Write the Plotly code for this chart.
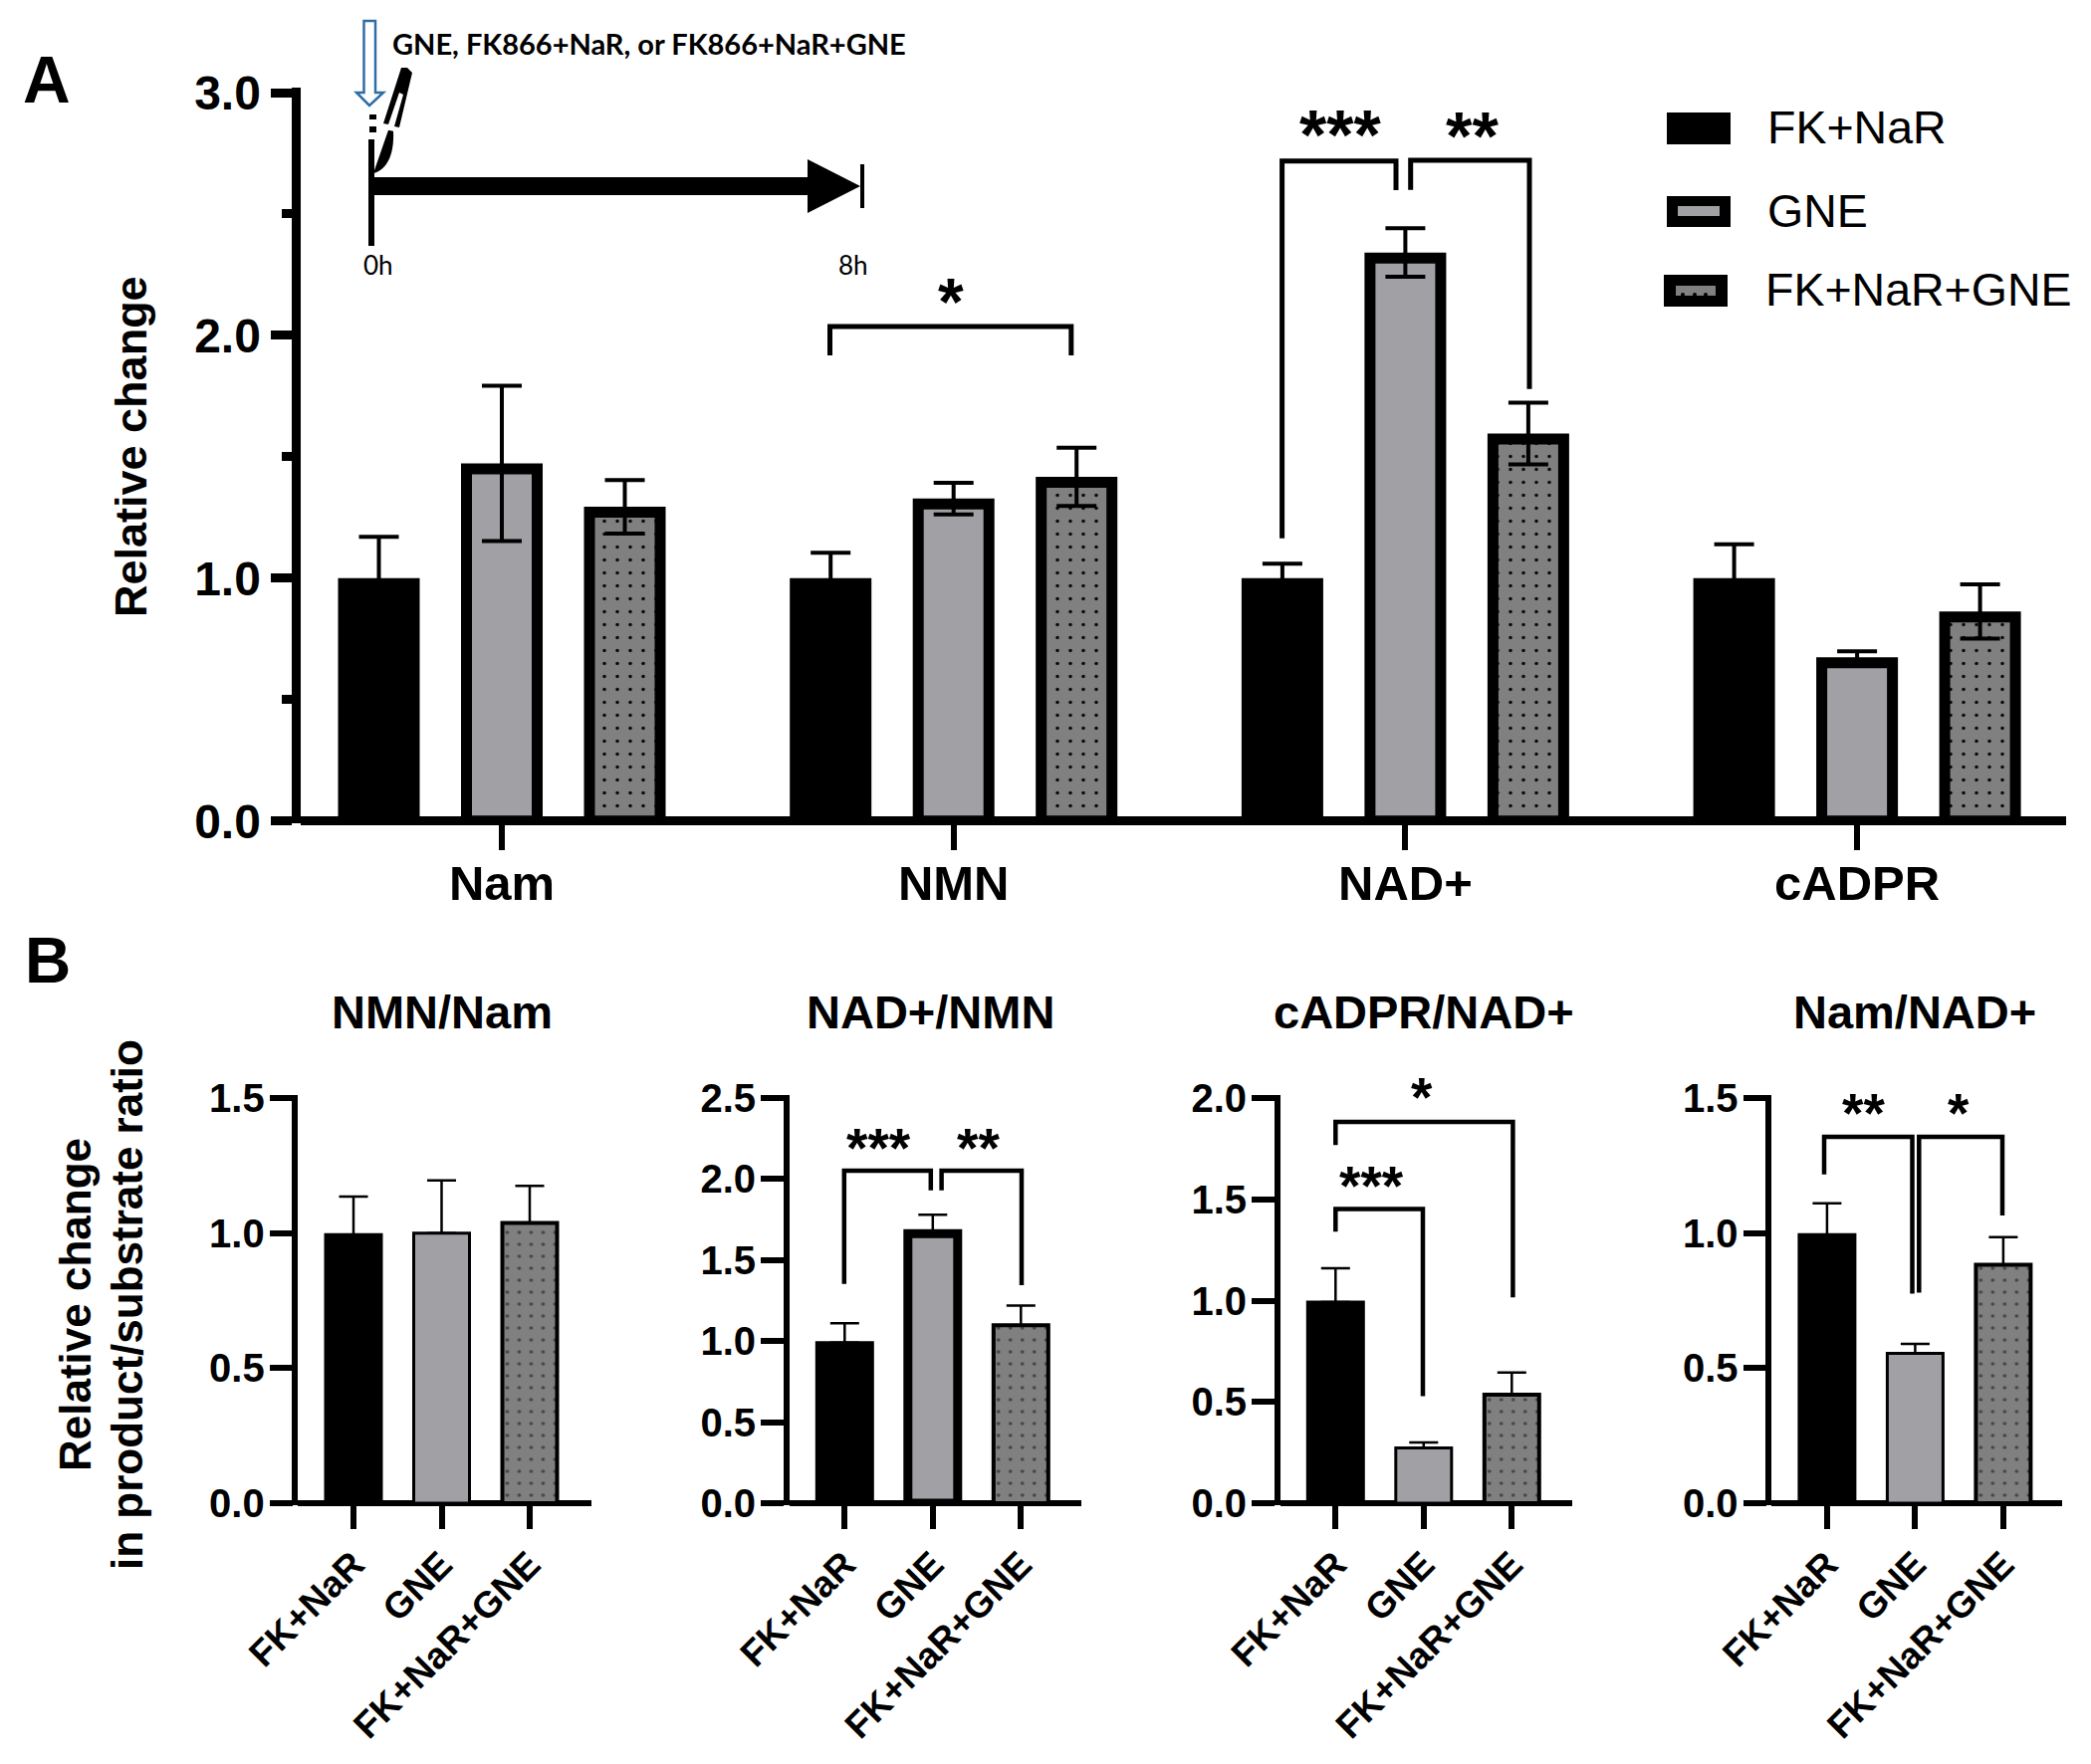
import plotly.graph_objects as go

W, H = 2100, 1772

# ---------- data: panel A ----------
metabolites = ["Nam", "NMN", "NAD+", "cADPR"]
fk_nar = [1.0, 1.0, 1.0, 1.0]
fk_nar_err = [0.17, 0.105, 0.06, 0.14]
gne = [1.4725, 1.328, 2.341, 0.674]
gne_err = [0.32, 0.065, 0.10, 0.025]
fk_nar_gne = [1.294, 1.417, 1.596, 0.863]
fk_nar_gne_err = [0.11, 0.12, 0.127, 0.112]
series_names = ["FK+NaR", "GNE", "FK+NaR+GNE"]

# ---------- data: panel B ----------
ratio_titles = ["NMN/Nam", "NAD+/NMN", "cADPR/NAD+", "Nam/NAD+"]
nmn_nam = [1.0, 1.005, 1.045]
nmn_nam_err = [0.135, 0.19, 0.13]
nad_nmn = [1.0, 1.69, 1.11]
nad_nmn_err = [0.11, 0.09, 0.11]
cadpr_nad = [1.0, 0.28, 0.545]
cadpr_nad_err = [0.16, 0.02, 0.10]
nam_nad = [1.0, 0.56, 0.89]
nam_nad_err = [0.11, 0.03, 0.095]
ratio_values = [nmn_nam, nad_nmn, cadpr_nad, nam_nad]
ratio_errors = [nmn_nam_err, nad_nmn_err, cadpr_nad_err, nam_nad_err]
ratio_ymax = [1.5, 2.5, 2.0, 1.5]
ratio_dtick = [0.5, 0.5, 0.5, 0.5]

BLACK = "#000000"
GREY1 = "#a0a0a5"
GREY2 = "#808080"
FONT = "Liberation Sans"


def px(x):
    return x / W


def py(y):
    return 1 - y / H


fig = go.Figure()
shapes, annots = [], []


def bracket(x1, y1, ytop, x2, y2, lw):
    shapes.append(dict(type="path", xref="paper", yref="paper", layer="above",
                       path=f"M{px(x1)},{py(y1)} L{px(x1)},{py(ytop)} L{px(x2)},{py(ytop)} L{px(x2)},{py(y2)}",
                       line=dict(color=BLACK, width=lw), fillcolor="rgba(0,0,0,0)"))


def stars(txt, x, y, size):
    # asterisks sit high in their line box, so shift the box down
    annots.append(dict(text=txt, xref="paper", yref="paper", x=px(x), y=py(y + 0.15 * size),
                       xanchor="center", yanchor="middle", showarrow=False,
                       font=dict(family=FONT, size=size, color=BLACK, weight="bold")))


def adjusted(vals, errs, lw, per_unit):
    """outline is centred on the bar edge: shift so the outer edge sits on the value"""
    if not isinstance(lw, list):
        lw = [lw] * len(vals)
    half = [l / 2 / per_unit for l in lw]
    return ([v - h for v, h in zip(vals, half)],
            [e + h for e, h in zip(errs, half)],
            [e - h for e, h in zip(errs, half)])


# ---------- panel A ----------
A_Y0, A_Y3 = 824.7, 93.0
A_PU = (A_Y0 - A_Y3) / 3
A_LW = 11
A_AX = 9
A_LEFT, A_RIGHT = 301.5, 2075
A_C0, A_STEP = 504.0, 453.7
a_sets = [(fk_nar, fk_nar_err, BLACK, ""), (gne, gne_err, GREY1, ""), (fk_nar_gne, fk_nar_gne_err, GREY2, ".")]
for name, (vals, errs, col, pat) in zip(series_names, a_sets):
    y, up, dn = adjusted(vals, errs, A_LW, A_PU)
    fig.add_trace(go.Bar(
        name=name, x=metabolites, y=y, showlegend=False,
        marker=dict(color=col, line=dict(color=BLACK, width=A_LW),
                    pattern=dict(shape=pat, fgcolor=BLACK, bgcolor=col, size=13, solidity=0.05, fillmode="replace")),
        error_y=dict(type="data", symmetric=False, array=up, arrayminus=dn,
                     color=BLACK, thickness=4, width=20),
    ))

fig.update_layout(
    xaxis=dict(domain=[px(A_LEFT), px(A_RIGHT)], anchor="y", type="category", automargin=False,
               range=[(A_LEFT - A_C0) / A_STEP, (A_RIGHT - A_C0) / A_STEP],
               showline=False, showgrid=False, zeroline=False, ticks="outside", ticklen=26, tickwidth=6,
               tickcolor=BLACK, ticklabelstandoff=-9,
               tickfont=dict(family=FONT, size=49, color=BLACK, weight="bold")),
    yaxis=dict(domain=[py(A_Y0 + 2), py(A_Y3 - 5)], anchor="x", automargin=False,
               range=[-2 / A_PU, 3 + 5 / A_PU],
               tickmode="array", tickvals=[0, 1, 2, 3], ticktext=["0.0", "1.0", "2.0", "3.0"],
               showline=True, linewidth=A_AX, linecolor=BLACK, showgrid=False,
               zeroline=True, zerolinewidth=A_AX, zerolinecolor=BLACK,
               ticks="outside", ticklen=21, tickwidth=9, tickcolor=BLACK, ticklabelstandoff=0,
               minor=dict(tickmode="array", tickvals=[0.5, 1.5, 2.5], ticks="outside", ticklen=10,
                          tickwidth=9, tickcolor=BLACK, showgrid=False),
               tickfont=dict(family=FONT, size=48, color=BLACK, weight="bold")),
)
annots.append(dict(text="Relative change", xref="paper", yref="paper", x=px(131), y=py(449), textangle=-90,
                   xanchor="center", yanchor="middle", showarrow=False,
                   font=dict(family=FONT, size=45, color=BLACK, weight="bold")))

# panel A significance brackets
bracket(833.5, 357, 328, 1075.8, 357, 5)
stars("*", 955, 293, 66)
bracket(1287.6, 540.7, 161.7, 1402, 191, 5)
bracket(1416.7, 190.7, 161, 1536, 390.7, 5)
stars("***", 1346, 125.7, 70)
stars("**", 1478, 125.7, 68)

# legend
leg_rows = [(1674, 113, 1738, 145, None, BLACK), (1674, 197, 1738, 228, (1685, 207, 1727, 217), GREY1),
            (1671, 276, 1735, 308, (1683, 287, 1723, 297), GREY2)]
leg_text_x = [1773, 1773, 1771]
leg_text_y = [128, 212, 291]
for (x0, y0, x1, y1, inner, col), name, tx, ty in zip(leg_rows, series_names, leg_text_x, leg_text_y):
    shapes.append(dict(type="rect", xref="paper", yref="paper", x0=px(x0), x1=px(x1), y0=py(y0), y1=py(y1),
                       fillcolor=BLACK, line=dict(width=0), layer="above"))
    if inner:
        shapes.append(dict(type="rect", xref="paper", yref="paper", x0=px(inner[0]), x1=px(inner[2]),
                           y0=py(inner[1]), y1=py(inner[3]), fillcolor=col, line=dict(width=0), layer="above"))
    annots.append(dict(text=name, xref="paper", yref="paper", x=px(tx), y=py(ty), xanchor="left", yanchor="middle",
                       showarrow=False, font=dict(family=FONT, size=46.5, color=BLACK)))
for dx in (1690, 1702, 1713):
    shapes.append(dict(type="circle", xref="paper", yref="paper", x0=px(dx - 2), x1=px(dx + 2), y0=py(294), y1=py(298),
                       fillcolor=BLACK, line=dict(width=0), layer="above"))


# timeline inset
def poly(points, fill, line=None, lw=0):
    path = "M" + " L".join(f"{px(x)},{py(y)}" for x, y in points) + " Z"
    shapes.append(dict(type="path", xref="paper", yref="paper", path=path, fillcolor=fill, layer="above",
                       line=dict(color=line or fill, width=lw)))


poly([(365.5, 21), (377, 21), (377, 93), (385, 93), (371, 106), (358, 93), (365.5, 93)], "#ffffff", "#2f6ea5", 2.5)
for a, b in [(370, 376)]:
    poly([(a, 140), (b, 140), (b, 247), (a, 247)], BLACK)
poly([(371, 115), (378, 115), (378, 120), (371, 120)], BLACK)
poly([(371, 127), (378, 127), (378, 133), (371, 133)], BLACK)
poly([(403, 68), (409, 68), (414, 73), (401, 128), (396, 127), (405, 95), (401, 93), (390, 125), (385, 124)], BLACK)
shapes.append(dict(type="path", xref="paper", yref="paper", layer="above", fillcolor=BLACK, line=dict(width=0),
                   path=f"M{px(390)},{py(130.7)} L{px(395)},{py(131.7)} "
                        f"C{px(396)},{py(153)} {px(390)},{py(170)} {px(375)},{py(174)} Z"))
poly([(371, 178), (811, 178), (811, 160), (864, 187), (811, 214), (811, 196), (371, 196)], BLACK)
poly([(864, 165), (868, 165), (868, 209), (864, 209)], BLACK)
annots.append(dict(text="GNE, FK866+NaR, or FK866+NaR+GNE", xref="paper", yref="paper", x=px(392), y=py(43),
                   xanchor="left", yanchor="middle", showarrow=False,
                   font=dict(family="Lato", size=29, color=BLACK, weight="bold")))
for t, x in [("0h", 380), ("8h", 857)]:
    annots.append(dict(text=t, xref="paper", yref="paper", x=px(x), y=py(265.7), xanchor="center", yanchor="middle",
                       showarrow=False, font=dict(family="Lato", size=26, color=BLACK)))

# panel letters
annots.append(dict(text="A", xref="paper", yref="paper", x=px(47), y=py(80), xanchor="center", yanchor="middle",
                   showarrow=False, font=dict(family=FONT, size=66, color=BLACK, weight="bold")))
annots.append(dict(text="B", xref="paper", yref="paper", x=px(48), y=py(965), xanchor="center", yanchor="middle",
                   showarrow=False, font=dict(family=FONT, size=64, color=BLACK, weight="bold")))

# ---------- panel B ----------
B_Y0, B_YT = 1510.0, 1103.0
B_AX = 5.5
B_STEP = 88.5
b_axis_x = [296.7, 790.0, 1283.0, 1776.6]
b_right = [594.0, 1086.0, 1579.0, 2071.0]
b_title_x = [444, 935, 1430, 1923]
b_lines = [[3, 3, 4], [3, 9, 4], [3, 3, 4], [3, 3, 4]]
b_colors = [BLACK, GREY1, GREY2]
b_patterns = ["", "", "."]

for i in range(4):
    n = i + 2
    xa, ya = f"x{n}", f"y{n}"
    per_unit = (B_Y0 - B_YT) / ratio_ymax[i]
    y, up, _ = adjusted(ratio_values[i], ratio_errors[i], b_lines[i], per_unit)
    outer = 59
    fig.add_trace(go.Bar(
        x=series_names, y=y, xaxis=xa, yaxis=ya, showlegend=False,
        width=[(outer - l) / B_STEP for l in b_lines[i]],
        marker=dict(color=b_colors, line=dict(color=BLACK, width=b_lines[i]),
                    pattern=dict(shape=b_patterns, fgcolor=BLACK, fgopacity=1, size=12, solidity=0.07,
                                 fillmode="overlay")),
        error_y=dict(type="data", symmetric=False, array=up, arrayminus=[0, 0, 0], color=BLACK,
                     thickness=2.5, width=14.5),
    ))
    left = b_axis_x[i] + B_AX / 2
    c0 = b_axis_x[i] + 58.3
    tv = [k * ratio_dtick[i] for k in range(int(ratio_ymax[i] / ratio_dtick[i]) + 1)]
    yaxis = dict(domain=[py(B_Y0 + 2), py(B_YT - 3)], anchor=xa, automargin=False,
                 range=[-2 / per_unit, ratio_ymax[i] + 3 / per_unit],
                 tickmode="array", tickvals=tv, ticktext=[f"{v:.1f}" for v in tv],
                 showline=True, linewidth=B_AX, linecolor=BLACK, showgrid=False,
                 zeroline=True, zerolinewidth=B_AX, zerolinecolor=BLACK,
                 ticks="outside", ticklen=23, tickwidth=B_AX, tickcolor=BLACK, ticklabelstandoff=-3,
                 tickfont=dict(family=FONT, size=40, color=BLACK, weight="bold"))
    fig.update_layout(**{
        f"xaxis{n}": dict(domain=[px(left), px(b_right[i])], anchor=ya, type="category", automargin=False,
                          range=[(left - c0) / B_STEP, (b_right[i] - c0) / B_STEP],
                          showline=False, showgrid=False, zeroline=False, ticks="outside", ticklen=23,
                          tickwidth=B_AX, tickcolor=BLACK, tickangle=-45, ticklabelstandoff=-1,
                          tickfont=dict(family=FONT, size=37, color=BLACK, weight="bold")),
        f"yaxis{n}": yaxis,
    })
    annots.append(dict(text=ratio_titles[i], xref="paper", yref="paper", x=px(b_title_x[i]), y=py(1017),
                       xanchor="center", yanchor="middle", showarrow=False,
                       font=dict(family=FONT, size=47, color=BLACK, weight="bold")))

for txt, x in [("Relative change", 75), ("in product/substrate ratio", 127)]:
    annots.append(dict(text=txt, xref="paper", yref="paper", x=px(x), y=py(1311), textangle=-90,
                       xanchor="center", yanchor="middle", showarrow=False,
                       font=dict(family=FONT, size=44, color=BLACK, weight="bold")))

# panel B significance brackets
BW = 4.5
bracket(847.8, 1289.8, 1176, 934.8, 1195.8, BW)
bracket(945.6, 1195.8, 1176, 1026, 1291, BW)
stars("***", 882, 1144.8, 55)
stars("**", 982, 1144.8, 55)
bracket(1341.3, 1150.2, 1127, 1519.4, 1303.2, BW)
stars("*", 1428.4, 1093.8, 55)
bracket(1341.3, 1237.2, 1214.6, 1429, 1402.6, BW)
stars("***", 1377.5, 1182.4, 55)
bracket(1832, 1179.7, 1142, 1920.5, 1299.5, BW)
bracket(1927.3, 1298.4, 1142, 2011, 1221, BW)
stars("**", 1871.7, 1110, 55)
stars("*", 1966.8, 1110, 55)

fig.update_layout(
    template="none",
    width=W, height=H, autosize=False, margin=dict(l=0, r=0, t=0, b=0, pad=0),
    paper_bgcolor="#ffffff", plot_bgcolor="#ffffff",
    barmode="group", bargap=0.1834, bargroupgap=0.425,
    shapes=shapes, annotations=annots,
)

fig.write_html("out.html", config={"displayModeBar": False},
               post_script="document.body.style.margin='0';document.documentElement.style.overflow='hidden';")
